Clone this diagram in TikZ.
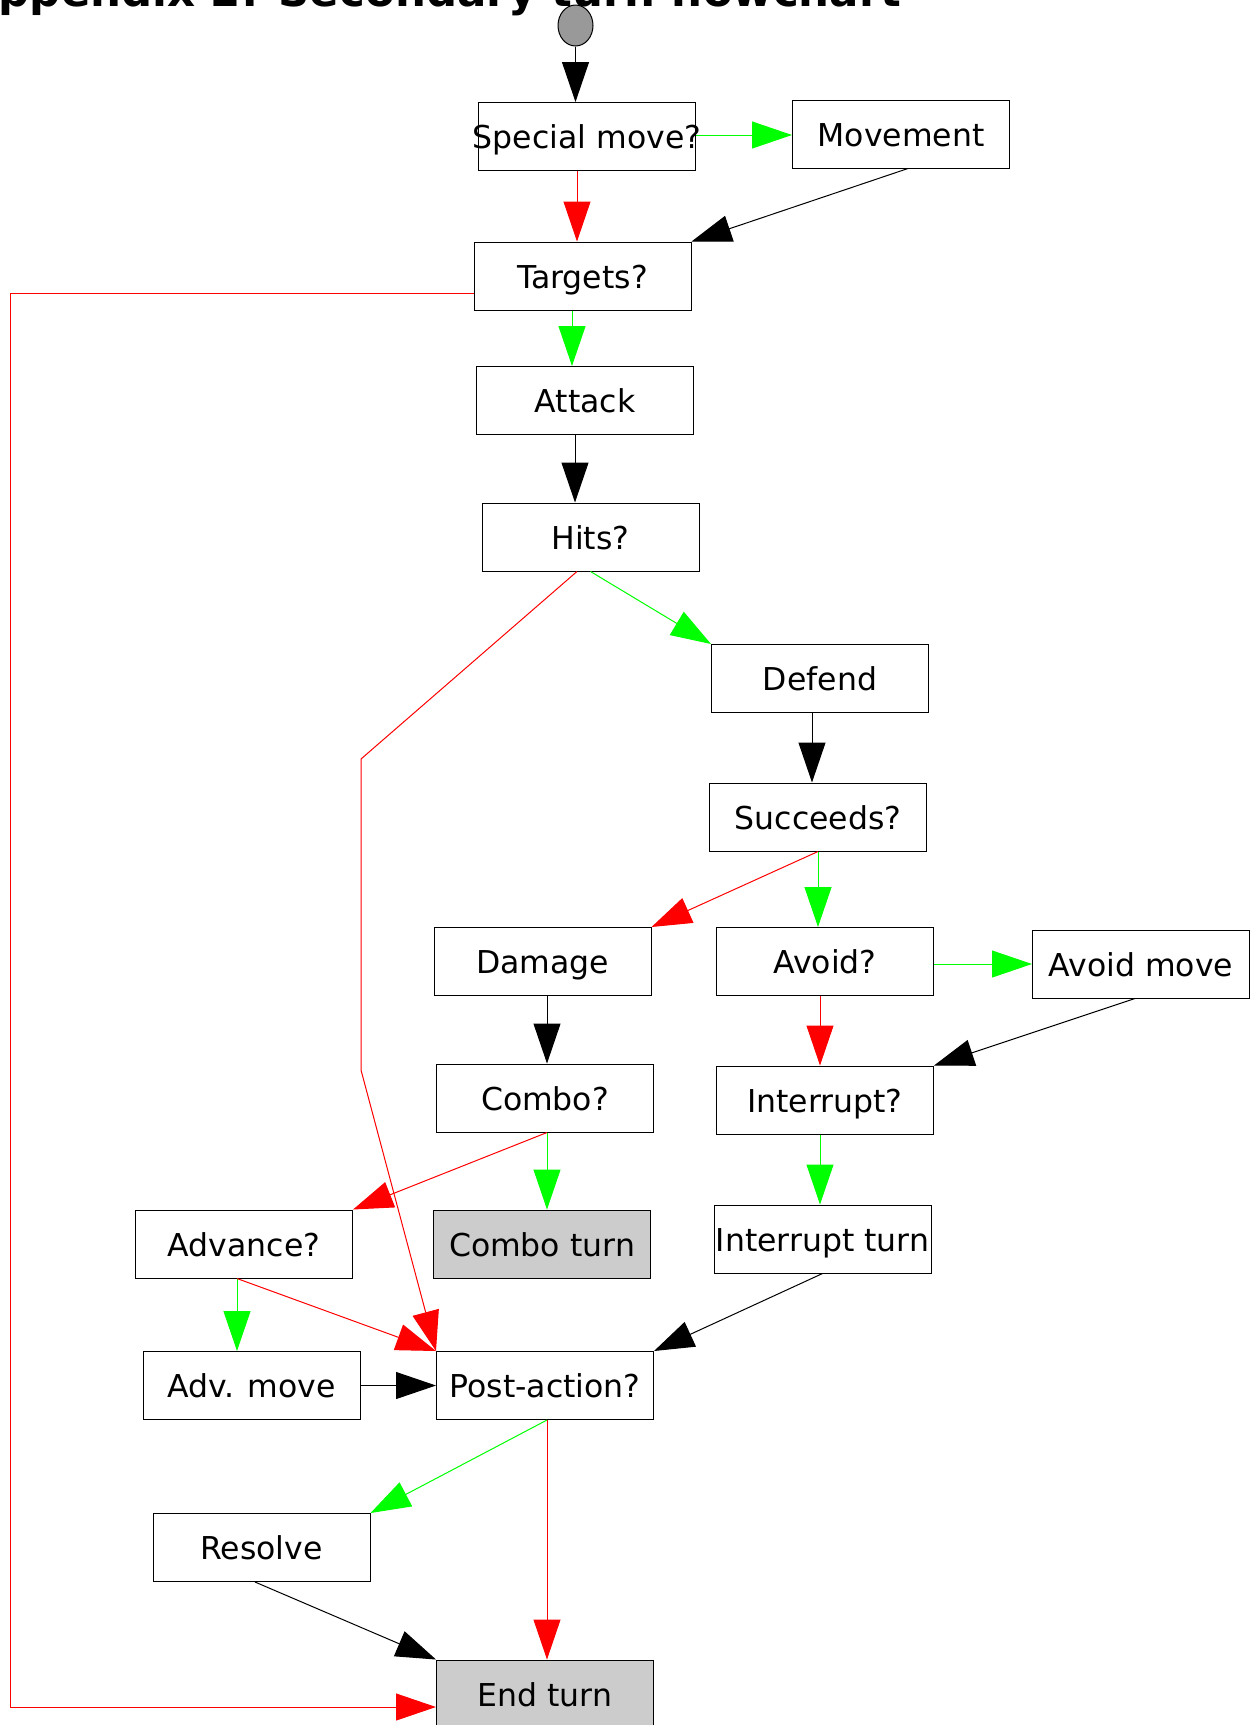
\documentclass[tikz,border=0pt]{standalone}
\usepackage{fontspec}
\setmainfont{DejaVu Sans}
\usetikzlibrary{arrows.meta,positioning,shapes.geometric}

\begin{document}
\begin{tikzpicture}[x=1pt,y=-1pt,on grid,line width=1pt,
 box/.style={draw,rectangle,minimum width=217pt,minimum height=68pt,inner sep=0pt,text height=30pt,text depth=6pt,font=\fontsize{31.5}{36}\selectfont},
 endbox/.style={box,fill=black!20},
 bigtip/.style={-{Triangle[length=40pt,width=27pt]}},
 yesarrow/.style={bigtip,draw=green},
 noarrow/.style={bigtip,draw=red},
 goarrow/.style={bigtip,draw=black}]

 \useasboundingbox (0,0) rectangle (1253,1725);
 \clip (0,0) rectangle (1253,1725);

 \node[anchor=base east,inner sep=0pt,font=\fontsize{43.5}{50}\selectfont\bfseries] (title) at (902,6) {Appendix 2: Secondary turn flowchart};

 \node[ellipse,draw,fill=black!40,minimum width=35pt,minimum height=41pt,inner sep=0pt] (start) at (575.5,25.5) {};
 \node[box] (spec) [below=111pt of start,xshift=11.5pt] {\makebox[217pt]{Special move?}};
 \node[box] (mov) [right=314pt of spec,yshift=2.5pt] {Movement};
 \node[box] (tgt) [below=139.5pt of spec,xshift=-4.5pt] {Targets?};
 \node[box] (att) [below=124.5pt of tgt,xshift=2.5pt] {Attack};
 \node[box] (hits) [below=136.5pt of att,xshift=5.5pt] {Hits?};
 \node[box] (def) [below right=141.5pt and 229.5pt of hits] {Defend};
 \node[box] (succ) [below=138.5pt of def,xshift=-2pt] {Succeeds?};
 \node[box] (dmg) [below left=144.5pt and 275.5pt of succ] {Damage};
 \node[box] (avoid) [right=282.5pt of dmg] {Avoid?};
 \node[box] (avmove) [right=316pt of avoid,yshift=-2.5pt] {Avoid move};
 \node[box] (combo) [below=136.5pt of dmg,xshift=2.5pt] {Combo?};
 \node[box] (intr) [below=138.5pt of avoid] {Interrupt?};
 \node[box] (adv) [below left=146pt and 301pt of combo] {Advance?};
 \node[endbox] (cturn) [below=146pt of combo,xshift=-3pt] {Combo turn};
 \node[box] (iturn) [below=139pt of intr,xshift=-2.5pt] {Interrupt turn};
 \node[box] (advmove) [below=141.5pt of adv,xshift=7.5pt] {Adv. move};
 \node[box] (post) [below=141.5pt of cturn,xshift=3pt] {Post-action?};
 \node[box] (resolve) [below=162pt of advmove,xshift=10pt] {Resolve};
 \node[endbox] (endt) [below=308.5pt of post] {End turn};

 % bends of the long red lines
 \coordinate (lft) at (10,293);
 \coordinate (bend1) at (361,759);
 \coordinate (bend2) at (361,1070);

 \path
 (start) edge[goarrow] (start |- spec.north)
 ([yshift=1.5pt]spec.east) edge[yesarrow] ([yshift=1.5pt]spec.east -| mov.west)
 ([xshift=-10pt]spec.south) edge[noarrow] ([xshift=-5.5pt]tgt.north)
 ([xshift=7pt]mov.south) edge[goarrow] (tgt.north east)
 ([xshift=-10.5pt]tgt.south) edge[yesarrow] ([xshift=-13pt]att.north)
 ([xshift=-10pt]att.south) edge[goarrow] ([xshift=-15.5pt]hits.north)
 (hits.south) edge[yesarrow] (def.north west)
 ([xshift=-8pt]def.south) edge[goarrow] ([xshift=-6pt]succ.north)
 (succ.south) edge[noarrow] (dmg.north east)
 (succ.south) edge[yesarrow] (succ.south |- avoid.north)
 (avmove.west -| avoid.east) edge[yesarrow] (avmove.west)
 ([xshift=-5pt]avoid.south) edge[noarrow] ([xshift=-5pt]intr.north)
 ([xshift=-6pt]avmove.south) edge[goarrow] (intr.north east)
 ([xshift=4.5pt]dmg.south) edge[goarrow] ([xshift=2pt]combo.north)
 ([xshift=2pt]combo.south) edge[noarrow] (adv.north east)
 ([xshift=2pt]combo.south) edge[yesarrow] ([xshift=5pt]cturn.north)
 ([xshift=-5pt]intr.south) edge[yesarrow] ([xshift=-2.5pt]iturn.north)
 (iturn.south) edge[goarrow] (post.north east)
 ([xshift=-7pt]adv.south) edge[yesarrow] ([xshift=-14.5pt]advmove.north)
 ([xshift=-7pt]adv.south) edge[noarrow] (post.north west)
 (advmove.east) edge[goarrow] (post.west)
 ([xshift=2pt]post.south) edge[yesarrow] (resolve.north east)
 ([xshift=2pt]post.south) edge[noarrow] ([xshift=2pt]endt.north)
 ([xshift=-6.5pt]resolve.south) edge[goarrow] (endt.north west);

 \draw[noarrow] ([yshift=-17pt]tgt.west) -- (lft) |- ([yshift=-13pt]endt.west);
 \draw[noarrow] ([xshift=-13.5pt]hits.south) -- (bend1) -- (bend2) -- (post.north west);
\end{tikzpicture}
\end{document}
